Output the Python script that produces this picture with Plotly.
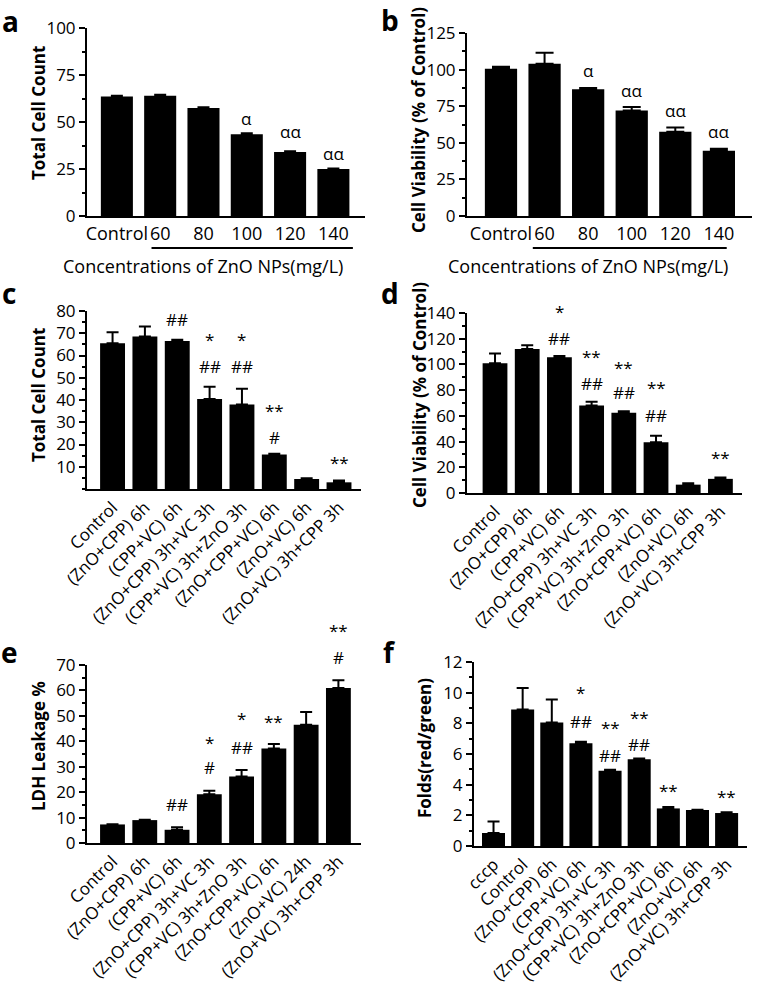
import plotly.graph_objects as go

W, H = 762, 995
FONT = "Open Sans"

# ---------------- data ----------------
a_cats = ["Control", "60", "80", "100", "120", "140"]
a_vals = [63.5, 64.0, 57.5, 43.5, 34.0, 25.0]
a_err = [0.5, 0.5, 0.3, 0.5, 0.4, 0.3]
a_sig_x = [3, 4, 5]
a_sig_t = ["α", "αα", "αα"]
a_sig_y = [52, 44.7, 33.5]

b_cats = ["Control", "60", "80", "100", "120", "140"]
b_vals = [100.5, 104.0, 86.5, 72.0, 57.5, 44.5]
b_err = [1.5, 7.5, 1.0, 2.5, 3.0, 1.5]
b_sig_x = [2, 3, 4, 5]
b_sig_t = ["α", "αα", "αα", "αα"]
b_sig_y = [99.7, 86, 72.4, 57.4]

cd_cats = ["Control", "(ZnO+CPP) 6h", "(CPP+VC) 6h", "(ZnO+CPP) 3h+VC 3h",
           "(CPP+VC) 3h+ZnO 3h", "(ZnO+CPP+VC) 6h", "(ZnO+VC) 6h",
           "(ZnO+VC) 3h+CPP 3h"]
c_vals = [65.5, 68.5, 66.5, 40.5, 38.0, 15.5, 4.5, 3.0]
c_err = [5.0, 4.5, 0.6, 5.5, 7.0, 0.3, 0.3, 0.8]
c_sig_x = [2, 3, 3, 4, 4, 5, 5, 7]
c_sig_t = ["##", "*", "##", "*", "##", "**", "#", "**"]
c_sig_y = [76, 67, 55, 67, 55, 35.5, 23, 11.7]

d_vals = [101.0, 112.0, 105.5, 68.0, 62.5, 39.5, 6.5, 11.0]
d_err = [7.5, 3.0, 1.0, 3.0, 1.0, 5.0, 1.0, 1.0]
d_sig_x = [2, 2, 3, 3, 4, 4, 5, 5, 7]
d_sig_t = ["*", "##", "**", "##", "**", "##", "**", "##", "**"]
d_sig_y = [141, 120.5, 106, 85.5, 98, 78, 82, 60, 28]

e_cats = ["Control", "(ZnO+CPP) 6h", "(CPP+VC) 6h", "(ZnO+CPP) 3h+VC 3h",
          "(CPP+VC) 3h+ZnO 3h", "(ZnO+CPP+VC) 6h", "(ZnO+VC) 24h",
          "(ZnO+VC) 3h+CPP 3h"]
e_vals = [7.3, 9.0, 5.2, 19.2, 26.2, 37.2, 46.5, 61.0]
e_err = [0.1, 0.1, 1.0, 1.3, 2.5, 1.7, 5.0, 3.0]
e_sig_x = [2, 3, 3, 4, 4, 5, 7, 7]
e_sig_t = ["##", "*", "#", "*", "##", "**", "**", "#"]
e_sig_y = [15, 39.7, 29.5, 49, 37.7, 47.6, 83.7, 73]

f_cats = ["cccp", "Control", "(ZnO+CPP) 6h", "(CPP+VC) 6h", "(ZnO+CPP) 3h+VC 3h",
          "(CPP+VC) 3h+ZnO 3h", "(ZnO+CPP+VC) 6h", "(ZnO+VC) 6h",
          "(ZnO+VC) 3h+CPP 3h"]
f_vals = [0.85, 8.9, 8.05, 6.7, 4.9, 5.65, 2.45, 2.35, 2.15]
f_err = [0.75, 1.4, 1.5, 0.1, 0.08, 0.05, 0.1, 0.02, 0.05]
f_sig_x = [3, 3, 4, 4, 5, 5, 6, 8]
f_sig_t = ["*", "##", "**", "##", "**", "##", "**", "**"]
f_sig_y = [10, 8.1, 7.7, 5.9, 8.35, 6.6, 3.65, 3.2]


def px(x):
    return x / W


def py(y):
    return 1 - y / H


fig = go.Figure()
layout = dict(width=W, height=H, margin=dict(l=0, r=0, t=0, b=0, autoexpand=False),
              paper_bgcolor="white", plot_bgcolor="white", showlegend=False,
              font=dict(family=FONT, color="black"))
annotations = []
shapes = []

panels = [
    dict(cats=a_cats, vals=a_vals, err=a_err, sx=a_sig_x, st=a_sig_t, sy=a_sig_y,
         xd=(87, 365), yd=(28, 216), xr=(-0.69, 5.73), yr=(0, 100),
         yt=[0, 25, 50, 75, 100], md=12.5, bw=0.74, cap=6, ang=0,
         yttl="Total Cell Count", ytp=(38, 113), let="a", lp=(10, 21)),
    dict(cats=b_cats, vals=b_vals, err=b_err, sx=b_sig_x, st=b_sig_t, sy=b_sig_y,
         xd=(467, 752), yd=(33, 216), xr=(-0.78, 5.76), yr=(0, 125),
         yt=[0, 25, 50, 75, 100, 125], md=12.5, bw=0.74, cap=9, ang=0,
         yttl="Cell Viability (% of Control)", ytp=(419, 120), let="b", lp=(390, 20)),
    dict(cats=cd_cats, vals=c_vals, err=c_err, sx=c_sig_x, st=c_sig_t, sy=c_sig_y,
         xd=(87, 361), yd=(311, 489), xr=(-0.79, 7.68), yr=(0, 80),
         yt=[10, 20, 30, 40, 50, 60, 70, 80], md=5, bw=0.77, cap=6, ang=-45,
         yttl="Total Cell Count", ytp=(38, 395), let="c", lp=(9, 293)),
    dict(cats=cd_cats, vals=d_vals, err=d_err, sx=d_sig_x, st=d_sig_t, sy=d_sig_y,
         xd=(467, 742), yd=(313, 493), xr=(-0.87, 7.67), yr=(0, 140),
         yt=[0, 20, 40, 60, 80, 100, 120, 140], md=10, bw=0.77, cap=6, ang=-45,
         yttl="Cell Viability (% of Control)", ytp=(419, 395), let="d", lp=(390, 293)),
    dict(cats=e_cats, vals=e_vals, err=e_err, sx=e_sig_x, st=e_sig_t, sy=e_sig_y,
         xd=(87, 361), yd=(665, 843), xr=(-0.79, 7.7), yr=(0, 70),
         yt=[0, 10, 20, 30, 40, 50, 60, 70], md=5, bw=0.77, cap=6, ang=-45,
         yttl="LDH Leakage %", ytp=(38, 746), let="e", lp=(9, 652)),
    dict(cats=f_cats, vals=f_vals, err=f_err, sx=f_sig_x, st=f_sig_t, sy=f_sig_y,
         xd=(474, 747), yd=(662, 846), xr=(-0.67, 8.7), yr=(0, 12),
         yt=[0, 2, 4, 6, 8, 10, 12], md=1, bw=0.79, cap=6, ang=-45,
         yttl="Folds(red/green)", ytp=(424, 748), let="f", lp=(389, 652)),
]

for i, p in enumerate(panels, start=1):
    sfx = "" if i == 1 else str(i)
    xa, ya = "x" + sfx, "y" + sfx
    n = len(p["cats"])
    xs = list(range(n))
    y0d, y1d = py(p["yd"][1]), py(p["yd"][0])
    fig.add_trace(go.Bar(
        x=xs, y=p["vals"], xaxis=xa, yaxis=ya, width=p["bw"],
        marker=dict(color="black", line=dict(width=0)),
        error_y=dict(type="data", symmetric=False, array=p["err"],
                     arrayminus=[0] * n, color="black", thickness=2, width=p["cap"]),
        cliponaxis=False, hoverinfo="skip"))
    layout["xaxis" + sfx] = dict(
        domain=[px(p["xd"][0]), px(p["xd"][1])], anchor=ya, range=list(p["xr"]),
        showline=True, linewidth=2, linecolor="black", ticks="", showgrid=False,
        zeroline=False, tickvals=xs, ticktext=p["cats"], tickangle=p["ang"],
        tickfont=dict(family=FONT, size=18 if p["ang"] == 0 else 17, color="black"),
        automargin=False, fixedrange=True)
    layout["yaxis" + sfx] = dict(
        domain=[y0d, y1d], anchor=xa, range=list(p["yr"]),
        showline=True, linewidth=2, linecolor="black", ticks="outside",
        ticklen=6, tickwidth=2, tickcolor="black", showgrid=False, zeroline=False,
        tickvals=p["yt"], tickfont=dict(family=FONT, size=17, color="black"),
        minor=dict(ticks="outside", ticklen=3, tickwidth=1.5, tickcolor="black",
                   dtick=p["md"], tick0=0, showgrid=False),
        automargin=False, fixedrange=True)
    # significance marks: data value -> paper position through the axis domain
    ymin, ymax = p["yr"]
    for sx, st, sy in zip(p["sx"], p["st"], p["sy"]):
        ypaper = y0d + (sy - ymin) / (ymax - ymin) * (y1d - y0d)
        annotations.append(dict(x=sx, y=ypaper, xref=xa, yref="paper", text=st,
                                showarrow=False, xanchor="center", yanchor="middle",
                                font=dict(family=FONT, size=17, color="black")))
    annotations.append(dict(x=px(p["ytp"][0]), y=py(p["ytp"][1]), xref="paper",
                            yref="paper", text="<b>" + p["yttl"] + "</b>",
                            textangle=-90, showarrow=False, xanchor="center",
                            yanchor="middle",
                            font=dict(family=FONT, size=17, color="black")))
    annotations.append(dict(x=px(p["lp"][0]), y=py(p["lp"][1]), xref="paper",
                            yref="paper", text="<b>" + p["let"] + "</b>",
                            showarrow=False, xanchor="center", yanchor="middle",
                            font=dict(family=FONT, size=28, color="black")))

conc_text = "Concentrations of ZnO NPs(mg/L)"
for xa, x0, x1, cx in [("x", 0.8, 5.45, 203), ("x2", 0.73, 5.18, 588)]:
    shapes.append(dict(type="line", xref=xa, yref="paper", x0=x0, x1=x1,
                       y0=py(248), y1=py(248), line=dict(color="black", width=2)))
    annotations.append(dict(x=px(cx), y=py(266), xref="paper", yref="paper",
                            text=conc_text, showarrow=False, xanchor="center",
                            yanchor="middle",
                            font=dict(family=FONT, size=18, color="black")))

layout["annotations"] = annotations
layout["shapes"] = shapes
fig.update_layout(**layout)
# the page's default 8px body margin would shift the whole figure; remove it
fig.write_html("out.html", config={"displayModeBar": False},
               post_script="document.body.style.margin='0';")
